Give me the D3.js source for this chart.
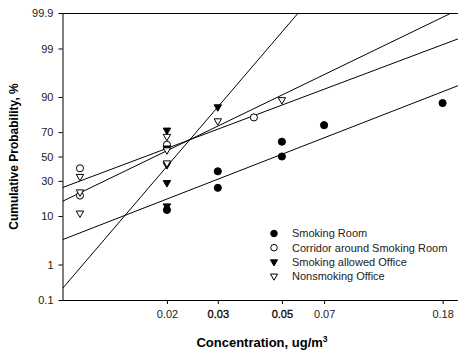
<!DOCTYPE html>
<html>
    <head>
        <title>Cumulative Probability Plot</title>
        <script src="https://d3js.org/d3.v7.min.js"></script>
        <style>
            body { margin: 0; background: #fff; }
            text { font-family: Arial, "Liberation Sans", sans-serif; }
            .tick text { font-size: 11px; fill: #222; }
            .axis-title { font-size: 12px; font-weight: bold; fill: #000; }
            .legend text { font-size: 11px; fill: #222; }
        </style>
    </head>
    <body>
        <svg width="458" height="353"></svg>
        <script>
            // data (concentration ug/m3, cumulative probability %)
            var seriesNames = ["Smoking Room", "Corridor around Smoking Room", "Smoking allowed Office", "Nonsmoking Office"];
            var smokingRoomConc = [0.02, 0.03, 0.03, 0.05, 0.05, 0.07, 0.18];
            var smokingRoomProb = [12.5, 25, 37.5, 50, 62.5, 75, 87.5];
            var corridorConc = [0.01, 0.01, 0.02, 0.04];
            var corridorProb = [20, 40, 60, 80];
            var allowedConc = [0.02, 0.02, 0.02, 0.02, 0.02, 0.03];
            var allowedProb = [14.3, 28.6, 42.9, 57.1, 71.4, 85.7];
            var nonsmokingConc = [0.01, 0.01, 0.01, 0.02, 0.02, 0.02, 0.03, 0.05];
            var nonsmokingProb = [11.1, 22.2, 33.3, 44.4, 55.6, 66.7, 77.8, 88.9];

            var xTicks = [0.02, 0.03, 0.05, 0.07, 0.18];
            var yTicks = [0.1, 1, 10, 30, 50, 70, 90, 99, 99.9];

            var margin = {top: 13, right: 0, bottom: 53, left: 62.5};
            var svgWidth = 458, svgHeight = 353;

            // inverse normal cdf (Acklam) for the probability axis
            function probit(p) {
                var a = [-3.969683028665376e+01, 2.209460984245205e+02, -2.759285104469687e+02, 1.383577518672690e+02, -3.066479806614716e+01, 2.506628277459239e+00];
                var b = [-5.447609879822406e+01, 1.615858368580409e+02, -1.556989798598866e+02, 6.680131188771972e+01, -1.328068155288572e+01];
                var c = [-7.784894002430293e-03, -3.223964580411365e-01, -2.400758277161838e+00, -2.549732539343734e+00, 4.374664141464968e+00, 2.938163982698783e+00];
                var d = [7.784695709041462e-03, 3.224671290700398e-01, 2.445134137142996e+00, 3.754408661907416e+00];
                var pl = 0.02425, q, r;
                if (p < pl) {
                    q = Math.sqrt(-2 * Math.log(p));
                    return (((((c[0]*q+c[1])*q+c[2])*q+c[3])*q+c[4])*q+c[5]) / ((((d[0]*q+d[1])*q+d[2])*q+d[3])*q+1);
                } else if (p <= 1 - pl) {
                    q = p - 0.5; r = q * q;
                    return (((((a[0]*r+a[1])*r+a[2])*r+a[3])*r+a[4])*r+a[5])*q / (((((b[0]*r+b[1])*r+b[2])*r+b[3])*r+b[4])*r+1);
                } else {
                    q = Math.sqrt(-2 * Math.log(1 - p));
                    return -(((((c[0]*q+c[1])*q+c[2])*q+c[3])*q+c[4])*q+c[5]) / ((((d[0]*q+d[1])*q+d[2])*q+d[3])*q+1);
                }
            }

            var svg = d3.select("svg");

            var xScale = d3.scaleLog()
                .domain([0.0087, 0.2035])
                .range([margin.left, svgWidth]);

            var zScale = d3.scaleLinear()
                .domain([probit(0.001), probit(0.999)])
                .range([svgHeight - margin.bottom, margin.top]);

            function yPos(pct) { return zScale(probit(pct / 100)); }

            var series = [
                {name: seriesNames[0], conc: smokingRoomConc, prob: smokingRoomProb, shape: "circle", filled: true},
                {name: seriesNames[1], conc: corridorConc, prob: corridorProb, shape: "circle", filled: false},
                {name: seriesNames[2], conc: allowedConc, prob: allowedProb, shape: "tri", filled: true},
                {name: seriesNames[3], conc: nonsmokingConc, prob: nonsmokingProb, shape: "tri", filled: false}
            ];

            svg.append("clipPath").attr("id", "plotclip")
              .append("rect")
                .attr("x", margin.left).attr("y", margin.top)
                .attr("width", svgWidth - margin.left)
                .attr("height", svgHeight - margin.bottom - margin.top);

            // least squares fit of probit on log concentration
            series.forEach(function(s) {
                var xs = s.conc.map(function(v) { return Math.log(v); });
                var zs = s.prob.map(function(v) { return probit(v / 100); });
                var mx = d3.mean(xs), mz = d3.mean(zs);
                var sxx = d3.sum(xs, function(v) { return (v - mx) * (v - mx); });
                var sxz = d3.sum(xs, function(v, i) { return (v - mx) * (zs[i] - mz); });
                var slope = sxz / sxx;
                var ends = xScale.domain().map(function(c) {
                    return [xScale(c), zScale(mz + slope * (Math.log(c) - mx))];
                });
                svg.append("line")
                    .attr("clip-path", "url(#plotclip)")
                    .attr("x1", ends[0][0]).attr("y1", ends[0][1])
                    .attr("x2", ends[1][0]).attr("y2", ends[1][1])
                    .attr("stroke", "#000")
                    .attr("stroke-width", 1);
            });

            function symbolPath(shape, size) {
                return shape === "circle"
                    ? d3.symbol().type(d3.symbolCircle).size(size || 40)()
                    : d3.symbol().type(d3.symbolTriangle).size(size || 24)();
            }

            function drawMarker(g, s, x, y, size) {
                g.append("path")
                    .attr("d", symbolPath(s.shape, size))
                    .attr("transform", "translate(" + x + "," + y + ")" + (s.shape === "tri" ? " rotate(180)" : ""))
                    .attr("fill", s.filled ? "#000" : "#fff")
                    .attr("stroke", "#000")
                    .attr("stroke-width", 1);
            }

            var points = svg.append("g");
            series.forEach(function(s) {
                s.conc.forEach(function(c, i) {
                    drawMarker(points, s, xScale(c), yPos(s.prob[i]));
                });
            });

            // axes
            var xAxis = svg.append("g")
                .attr("transform", "translate(0," + (svgHeight - margin.bottom) + ")")
                .call(d3.axisBottom(xScale).tickValues(xTicks).tickSize(4).tickPadding(6)
                    .tickFormat(function(d) { return String(d); }));
            xAxis.select(".domain").attr("d", "M" + margin.left + ",0.5H" + svgWidth);
            xAxis.selectAll(".tick text")
                .filter(function(d) { return d === 0.03 || d === 0.05; })
                .attr("stroke", "#000").attr("stroke-width", 0.35);

            var yAxis = svg.append("g")
                .attr("transform", "translate(" + margin.left + ",0)")
                .call(d3.axisLeft(zScale)
                    .tickValues(yTicks.map(function(t) { return probit(t / 100); }))
                    .tickSize(4).tickPadding(5)
                    .tickFormat(function(d, i) { return String(yTicks[i]); }));
            yAxis.select(".domain").attr("d", "M0.5," + margin.top + "V" + (svgHeight - margin.bottom));

            svg.selectAll(".domain, .tick line").attr("stroke", "#000");

            // top frame line
            svg.append("line")
                .attr("x1", margin.left).attr("x2", svgWidth)
                .attr("y1", margin.top + 0.5).attr("y2", margin.top + 0.5)
                .attr("stroke", "#000");

            // axis titles
            var xt = svg.append("text")
                .attr("class", "axis-title")
                .attr("x", 262).attr("y", 346.5)
                .attr("font-size", "13px")
                .style("font-size", "13px")
                .attr("text-anchor", "middle");
            xt.append("tspan").text("Concentration, ug/m");
            xt.append("tspan").attr("dy", -5).style("font-size", "8.5px").text("3");

            svg.append("text")
                .attr("class", "axis-title")
                .attr("transform", "translate(18,156.5) rotate(-90)")
                .attr("text-anchor", "middle")
                .text("Cumulative Probability, %");

            // legend
            var legend = svg.append("g").attr("class", "legend");
            series.forEach(function(s, i) {
                var y = 233.5 + i * 14.2;
                drawMarker(legend, s, 274, y, s.shape === "circle" ? 34 : 22);
                legend.append("text")
                    .attr("x", 292).attr("y", y)
                    .attr("dy", "0.35em")
                    .text(s.name);
            });
        </script>
    </body>
</html>
